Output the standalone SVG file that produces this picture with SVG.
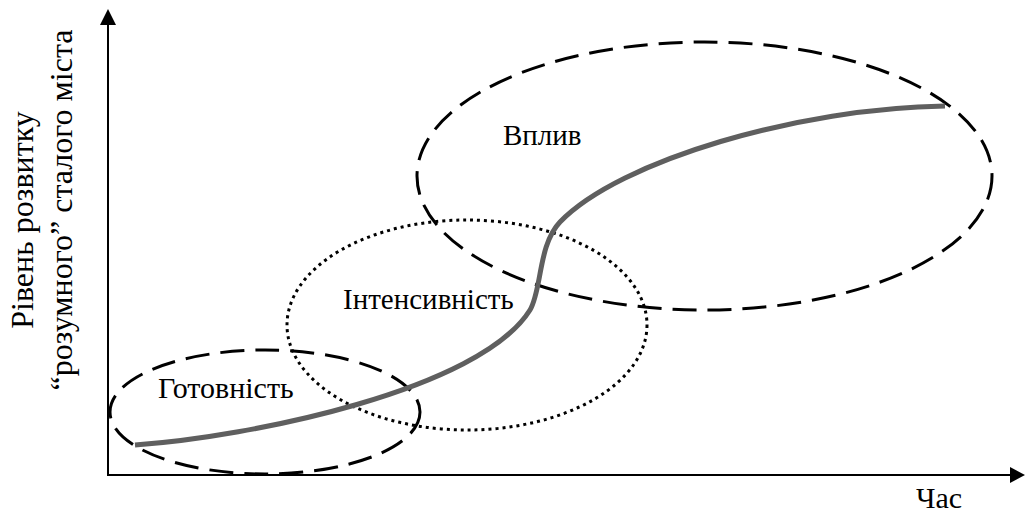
<svg xmlns="http://www.w3.org/2000/svg" width="1026" height="515" viewBox="0 0 1026 515">
<style>
.lbl{font-family:"Liberation Serif","Times New Roman",serif;fill:#000}
.dash{fill:none;stroke:#000;stroke-width:3;stroke-dasharray:24 11}
.dot{fill:none;stroke:#000;stroke-width:3;stroke-dasharray:3 4}
.axis{fill:none;stroke:#000;stroke-width:2}
</style>
<rect width="1026" height="515" fill="#fff"/>
<g id="axes">
<line class="axis" x1="108" y1="22" x2="108" y2="476"/>
<line class="axis" x1="107" y1="475" x2="1012" y2="475"/>
<polygon points="108,9 100,25 116,25" fill="#000"/>
<polygon points="1025,475 1010,467 1010,483" fill="#000"/>
<text class="lbl" font-size="32" text-anchor="middle" transform="translate(33,220) rotate(-90)">Рівень розвитку</text>
<text class="lbl" font-size="32" text-anchor="middle" transform="translate(72,210) rotate(-90)">“розумного” сталого міста</text>
<text class="lbl" font-size="30" x="916" y="508">Час</text>
</g>
<g id="node-gotovnist">
<ellipse class="dash" cx="265" cy="412" rx="155" ry="62"/>
<text class="lbl" font-size="30" x="158" y="398">Готовність</text>
</g>
<g id="node-intensyvnist">
<ellipse class="dot" cx="467" cy="325" rx="180" ry="105"/>
<text class="lbl" font-size="29" x="343" y="309">Інтенсивність</text>
</g>
<g id="node-vplyv">
<ellipse class="dash" cx="704.5" cy="176" rx="287.5" ry="134"/>
<text class="lbl" font-size="29" x="503" y="145">Вплив</text>
</g>
<g id="connectors">
<path d="M135,445 C250,437 480,390 530,310 C542,290 538,245 560,222 C620,160 800,108 945,106" fill="none" stroke="#5f5f5f" stroke-width="5"/>
</g>
</svg>
